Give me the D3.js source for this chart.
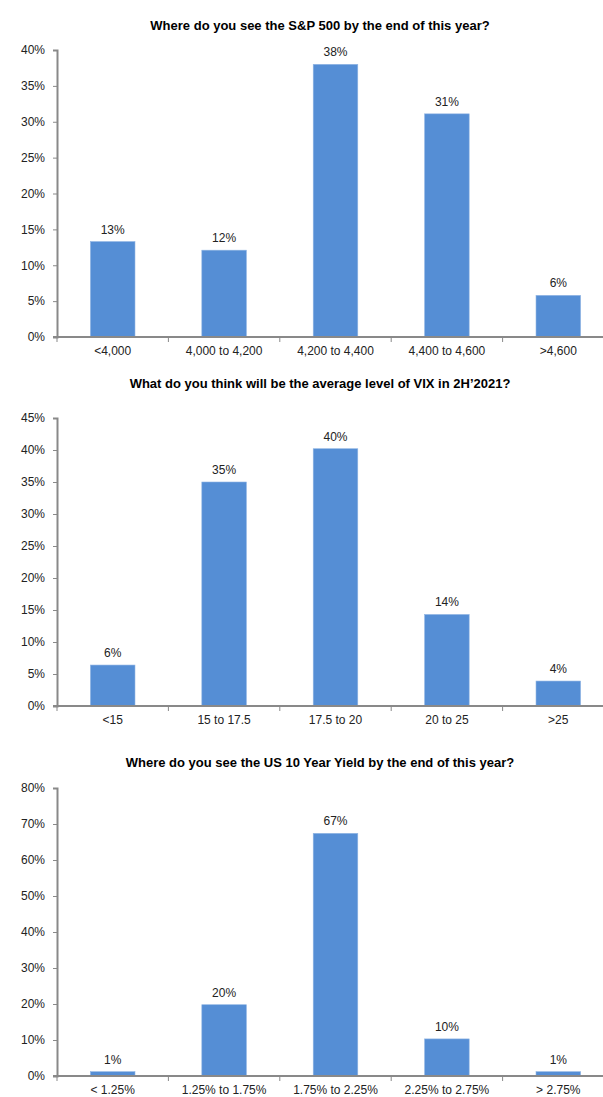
<!DOCTYPE html>
<html>
<head>
<meta charset="utf-8">
<script src="https://cdn.jsdelivr.net/npm/d3@7"></script>
<style>
  html, body { margin: 0; padding: 0; background: #fff; }
  svg { display: block; font-family: "Liberation Sans", Arial, sans-serif; }
</style>
</head>
<body>
<svg id="chart" width="603" height="1097"></svg>
<script>
// ---- Data ----
const titles = [
  "Where do you see the S&P 500 by the end of this year?",
  "What do you think will be the average level of VIX in 2H\u20192021?",
  "Where do you see the US 10 Year Yield by the end of this year?"
];
const spCategories = ["<4,000", "4,000 to 4,200", "4,200 to 4,400", "4,400 to 4,600", ">4,600"];
const spValues = [13.3, 12.1, 38.0, 31.1, 5.8];
const spTicks = [0, 5, 10, 15, 20, 25, 30, 35, 40];

const vixCategories = ["<15", "15 to 17.5", "17.5 to 20", "20 to 25", ">25"];
const vixValues = [6.4, 35.0, 40.2, 14.3, 3.9];
const vixTicks = [0, 5, 10, 15, 20, 25, 30, 35, 40, 45];

const yieldCategories = ["< 1.25%", "1.25% to 1.75%", "1.75% to 2.25%", "2.25% to 2.75%", "> 2.75%"];
const yieldValues = [1.2, 19.8, 67.4, 10.3, 1.2];
const yieldTicks = [0, 10, 20, 30, 40, 50, 60, 70, 80];

// ---- Layout ----
const svg = d3.select("#chart");
const barColor = "#558ed5";
const axisColor = "#898989";

const panels = [
  { title: titles[0], cats: spCategories, vals: spValues, ticks: spTicks, titleY: 30, top: 50, bottom: 337 },
  { title: titles[1], cats: vixCategories, vals: vixValues, ticks: vixTicks, titleY: 388, top: 418, bottom: 706 },
  { title: titles[2], cats: yieldCategories, vals: yieldValues, ticks: yieldTicks, titleY: 767, top: 788, bottom: 1076 }
];

const left = 57, right = 614;

panels.forEach(p => {
  const g = svg.append("g");
  const x = d3.scaleBand().domain(p.cats).range([left, right]).paddingInner(0.6).paddingOuter(0.3);
  const xb = d3.scaleBand().domain(p.cats).range([left, right]);
  const maxT = p.ticks[p.ticks.length - 1];
  const y = d3.scaleLinear().domain([0, maxT]).range([p.bottom, p.top]);

  // Title
  g.append("text")
    .attr("x", 320).attr("y", p.titleY)
    .attr("text-anchor", "middle")
    .attr("font-size", 13).attr("font-weight", "bold")
    .attr("fill", "#000")
    .text(p.title);

  // Bars
  g.selectAll("rect.bar").data(p.vals).join("rect")
    .attr("class", "bar")
    .attr("x", (d, i) => x(p.cats[i]))
    .attr("width", x.bandwidth())
    .attr("y", d => y(d))
    .attr("height", d => p.bottom - y(d))
    .attr("fill", barColor)
    .attr("stroke", "#8fb4e3").attr("stroke-width", 0.6);

  // Value labels
  g.selectAll("text.val").data(p.vals).join("text")
    .attr("class", "val")
    .attr("x", (d, i) => x(p.cats[i]) + x.bandwidth() / 2)
    .attr("y", d => y(d) - 8)
    .attr("text-anchor", "middle")
    .attr("font-size", 12).attr("fill", "#222")
    .text(d => Math.round(d) + "%");

  // Y axis
  const yAxis = d3.axisLeft(y).tickValues(p.ticks).tickSize(4).tickSizeOuter(4)
    .tickFormat(d => d + "%");
  const ya = g.append("g").attr("transform", `translate(${left},0)`).call(yAxis);
  ya.select(".domain").attr("stroke", axisColor).attr("stroke-width", 2);
  ya.selectAll(".tick line").attr("stroke", axisColor).attr("stroke-width", 1);
  ya.selectAll(".tick text").attr("font-size", 12).attr("fill", "#222")
    .attr("font-family", "Liberation Sans, Arial, sans-serif").attr("dx", -5);

  // X axis
  const xa = g.append("g").attr("transform", `translate(0,${p.bottom})`);
  xa.append("line").attr("x1", left - 4).attr("x2", right).attr("y1", 0).attr("y2", 0)
    .attr("stroke", axisColor).attr("stroke-width", 2);
  const bounds = p.cats.map(c => xb(c)).concat([right]);
  xa.selectAll("line.tk").data(bounds).join("line")
    .attr("class", "tk")
    .attr("x1", d => d).attr("x2", d => d)
    .attr("y1", 0).attr("y2", 5)
    .attr("stroke", axisColor).attr("stroke-width", 1);
  xa.selectAll("text.cat").data(p.cats).join("text")
    .attr("class", "cat")
    .attr("x", d => xb(d) + xb.bandwidth() / 2)
    .attr("y", 18)
    .attr("text-anchor", "middle")
    .attr("font-size", 12).attr("fill", "#222")
    .text(d => d);
});
</script>
</body>
</html>
